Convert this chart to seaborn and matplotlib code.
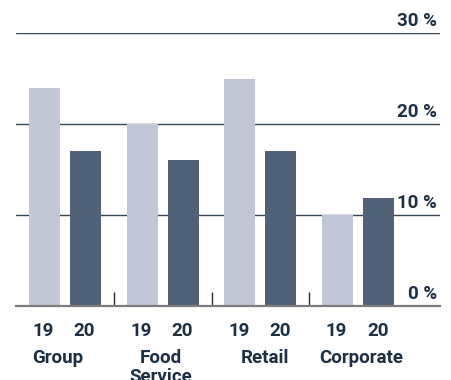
import matplotlib
matplotlib.use("Agg")
import matplotlib.pyplot as plt
import matplotlib.transforms as mtransforms
import pandas as pd
import seaborn as sns

segments = ["Group", "Food\nService", "Retail", "Corporate"]
years = ["19", "20"]
values_19 = [24, 20, 25, 10]
values_20 = [17, 16, 17, 11.9]
y_ticks = [0, 10, 20, 30]
y_tick_labels = ["0 %", "10 %", "20 %", "30 %"]

LIGHT = "#c1c7d6"
DARK = "#506178"
INK = "#1d2f42"
GRID = "#34475a"
FS = 13.5

df = pd.DataFrame({
    "segment": segments * 2,
    "year": [years[0]] * len(segments) + [years[1]] * len(segments),
    "value": values_19 + values_20,
})

sns.set_theme(style="white")
plt.rcParams["font.family"] = ["Roboto", "DejaVu Sans"]

fig = plt.figure(figsize=(4.51, 3.80), dpi=100)
ax = fig.add_axes([16 / 451, 1 - 306 / 380, (440 - 16) / 451, (306 - 33) / 380])

sns.barplot(
    data=df, x="segment", y="value", hue="year", order=segments, hue_order=years,
    palette=[LIGHT, DARK], saturation=1, width=0.84, gap=0.245, linewidth=0,
    legend=False, ax=ax, errorbar=None,
)

ax.set_xlim(-0.5016, 3.838)
ax.set_ylim(0, 30)
ax.set_axisbelow(True)

# horizontal reference lines
for v in y_ticks[1:]:
    ax.axhline(v, color=GRID, lw=1.0, zorder=0)
for s in ["left", "right", "top"]:
    ax.spines[s].set_visible(False)
ax.spines["bottom"].set_color("#7d7d7d")
ax.spines["bottom"].set_linewidth(1.6)
ax.set_xticks([])
ax.set_yticks([])
ax.set_xlabel("")
ax.set_ylabel("")

# short separators between segments
ax.vlines([0.5, 1.5, 2.5], 0, 1.5, color="#2b2b2b", lw=1.0, clip_on=False)

# percentage labels sitting on the lines, right aligned
blend = mtransforms.blended_transform_factory(ax.transAxes, ax.transData)
for v, lab in zip(y_ticks, y_tick_labels):
    ax.annotate(lab, xy=(1, v), xycoords=blend, xytext=(-3, 7),
                textcoords="offset pixels", ha="right", va="baseline",
                fontsize=FS, fontweight="bold", color=INK, annotation_clip=False)

# year label under each bar
bars = sorted(ax.patches, key=lambda p: p.get_x())
for i, p in enumerate(bars):
    xc = p.get_x() + p.get_width() / 2
    ax.annotate(years[i % 2], xy=(xc, 0), xytext=(-1, -30), textcoords="offset pixels",
                ha="center", va="baseline", fontsize=FS, fontweight="bold",
                color=INK, annotation_clip=False)

# segment names, one baseline per line
nudge = [-7, -2, 5, 3]
for i, name in enumerate(segments):
    for k, line in enumerate(name.split("\n")):
        ax.annotate(line, xy=(i, 0), xytext=(nudge[i], -57 - 19.5 * k),
                    textcoords="offset pixels", ha="center", va="baseline",
                    fontsize=FS, fontweight="bold", color=INK,
                    annotation_clip=False)

fig.savefig("out.png", dpi=100)
